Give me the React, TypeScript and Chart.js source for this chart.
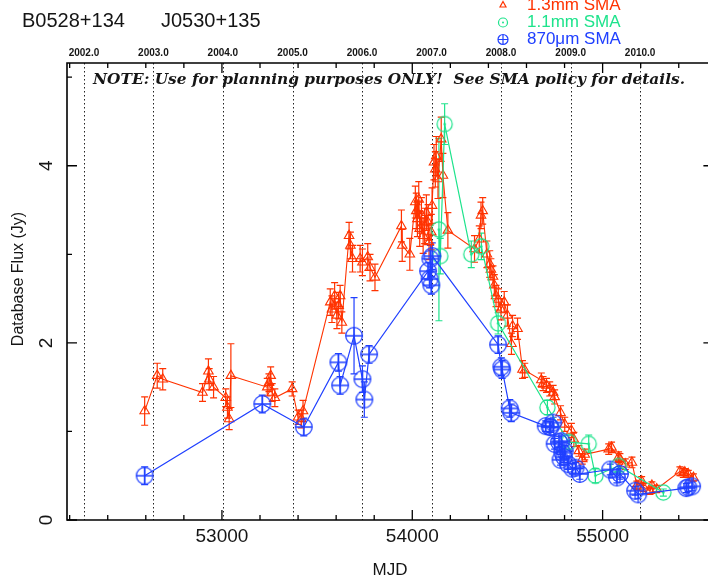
import React, { useEffect, useRef } from 'react';
import { Chart, registerables } from 'chart.js';
Chart.register(...registerables);

// ---- data (MJD, flux in Jy, error in Jy) ----
const redMJD = [52594, 52660, 52689, 52898, 52929, 52933, 52956, 53020, 53029, 53038, 53047, 53238, 53247, 53256, 53264, 53278, 53369, 53400, 53417, 53426, 53569, 53578, 53592, 53604, 53613, 53621, 53630, 53668, 53675, 53686, 53726, 53738, 53766, 53778, 53804, 53943, 53947, 53987, 54016, 54021, 54027, 54034, 54039, 54048, 54057, 54065, 54074, 54083, 54088, 54100, 54104, 54114, 54121, 54126, 54135, 54152, 54161, 54187, 54327, 54352, 54361, 54370, 54392, 54407, 54413, 54424, 54431, 54440, 54452, 54466, 54483, 54500, 54521, 54527, 54553, 54579, 54591, 54678, 54687, 54705, 54722, 54740, 54748, 54779, 54801, 54836, 54849, 54875, 54893, 54906, 55032, 55047, 55084, 55091, 55119, 55154, 55180, 55205, 55215, 55249, 55259, 55284, 55406, 55424, 55432, 55450, 55477];
const redFlux = [1.23, 1.63, 1.59, 1.44, 1.68, 1.59, 1.50, 1.38, 1.27, 1.14, 1.63, 1.50, 1.55, 1.63, 1.44, 1.38, 1.48, 1.16, 1.14, 1.23, 2.46, 2.38, 2.53, 2.31, 2.42, 2.53, 2.23, 3.21, 3.10, 2.95, 2.95, 2.91, 2.97, 2.85, 2.74, 3.32, 3.10, 3.00, 3.59, 3.49, 3.40, 3.62, 3.29, 3.44, 3.21, 3.32, 3.47, 3.36, 3.14, 3.25, 3.55, 4.04, 3.96, 4.11, 3.85, 4.30, 3.89, 3.27, 3.06, 3.17, 3.44, 3.49, 3.00, 2.89, 2.83, 2.75, 2.65, 2.53, 2.49, 2.38, 2.46, 2.31, 1.99, 2.19, 2.16, 1.70, 1.69, 1.58, 1.54, 1.52, 1.48, 1.44, 1.39, 1.21, 1.08, 1.01, 0.91, 0.78, 0.69, 0.74, 0.80, 0.82, 0.71, 0.69, 0.63, 0.65, 0.39, 0.44, 0.37, 0.33, 0.39, 0.35, 0.55, 0.53, 0.54, 0.52, 0.48];
const redErr = [0.16, 0.14, 0.12, 0.10, 0.14, 0.12, 0.12, 0.10, 0.12, 0.12, 0.36, 0.10, 0.10, 0.10, 0.10, 0.10, 0.08, 0.08, 0.10, 0.12, 0.15, 0.15, 0.15, 0.15, 0.15, 0.12, 0.12, 0.15, 0.15, 0.15, 0.15, 0.15, 0.15, 0.15, 0.15, 0.18, 0.18, 0.18, 0.18, 0.20, 0.20, 0.20, 0.20, 0.20, 0.20, 0.20, 0.20, 0.20, 0.20, 0.20, 0.20, 0.20, 0.20, 0.22, 0.22, 0.25, 0.25, 0.20, 0.15, 0.15, 0.15, 0.15, 0.15, 0.15, 0.12, 0.12, 0.12, 0.12, 0.12, 0.12, 0.12, 0.12, 0.12, 0.12, 0.12, 0.10, 0.08, 0.08, 0.08, 0.08, 0.08, 0.08, 0.08, 0.08, 0.08, 0.08, 0.08, 0.06, 0.06, 0.06, 0.06, 0.06, 0.06, 0.06, 0.06, 0.06, 0.05, 0.05, 0.05, 0.04, 0.04, 0.04, 0.05, 0.05, 0.04, 0.04, 0.04];

const greenMJD = [54140, 54147, 54170, 54310, 54363, 54451, 54710, 54823, 54927, 54962, 55084, 55319];
const greenFlux = [3.28, 2.98, 4.47, 3.00, 3.09, 2.22, 1.27, 0.88, 0.86, 0.50, 0.61, 0.31];
const greenErr = [1.03, 0.20, 0.23, 0.15, 0.15, 0.12, 0.08, 0.08, 0.10, 0.08, 0.06, 0.04];

const blueMJD = [52594, 53212, 53430, 53612, 53621, 53694, 53738, 53748, 53773, 54083, 54091, 54095, 54100, 54105, 54451, 54468, 54472, 54512, 54520, 54701, 54722, 54727, 54740, 54748, 54771, 54779, 54783, 54788, 54797, 54801, 54818, 54841, 54858, 54880, 55040, 55075, 55091, 55171, 55187, 55440, 55450, 55470];
const blueFlux = [0.50, 1.31, 1.05, 1.78, 1.52, 2.08, 1.59, 1.36, 1.87, 2.81, 2.72, 2.95, 2.65, 2.98, 1.98, 1.73, 1.70, 1.26, 1.21, 1.06, 1.05, 1.05, 1.10, 0.86, 0.88, 0.68, 0.89, 0.76, 0.71, 0.78, 0.63, 0.58, 0.59, 0.52, 0.57, 0.48, 0.52, 0.33, 0.29, 0.36, 0.37, 0.38];
const blueErr = [0.10, 0.10, 0.10, 0.10, 0.10, 0.43, 0.15, 0.20, 0.10, 0.10, 0.10, 0.15, 0.10, 0.15, 0.10, 0.10, 0.10, 0.10, 0.10, 0.06, 0.06, 0.06, 0.06, 0.06, 0.06, 0.06, 0.06, 0.06, 0.06, 0.06, 0.06, 0.06, 0.06, 0.06, 0.06, 0.06, 0.06, 0.05, 0.05, 0.05, 0.05, 0.05];

// ---- axes / labels ----
const yearMJD = [52275, 52640, 53005, 53371, 53736, 54101, 54466, 54832, 55197];
const yearLabels = ['2002.0', '2003.0', '2004.0', '2005.0', '2006.0', '2007.0', '2008.0', '2009.0', '2010.0'];
const xMajorTicks = [53000, 54000, 55000];
const xTickLabels = ['53000', '54000', '55000'];
const yTickValues = [0, 2, 4];
const yTickLabels = ['0', '2', '4'];
const legendLabels = ['1.3mm SMA', '1.1mm SMA', '870\u03bcm SMA'];
const titleLeft = 'B0528+134';
const titleRight = 'J0530+135';
const noteText = 'NOTE: Use for planning purposes ONLY!  See SMA policy for details.';
const xTitle = 'MJD';
const yTitle = 'Database Flux (Jy)';

const RED = '#ff3300';
const GREEN = '#1ee38c';
const BLUE = '#2040ff';
const INK = '#151515';
const SANS = '"Liberation Sans", Arial, sans-serif';

function makeSymbol(kind: string, color: string, r: number, lw: number) {
  const size = Math.ceil(2 * r + lw + 2);
  const c = document.createElement('canvas');
  c.width = size;
  c.height = size;
  const g = c.getContext('2d') as CanvasRenderingContext2D;
  const cx = size / 2;
  g.strokeStyle = color;
  g.lineWidth = lw;
  g.beginPath();
  g.arc(cx, cx, r, 0, Math.PI * 2);
  g.stroke();
  if (kind === 'plus') {
    g.beginPath();
    g.moveTo(cx - r, cx);
    g.lineTo(cx + r, cx);
    g.moveTo(cx, cx - r);
    g.lineTo(cx, cx + r);
    g.stroke();
  } else {
    g.fillStyle = color;
    g.beginPath();
    g.arc(cx, cx, 1.2, 0, Math.PI * 2);
    g.fill();
  }
  return c;
}

const decorPlugin = {
  id: 'decor',
  beforeDatasetsDraw(chart: any) {
    const { ctx, chartArea: a } = chart;
    const x = chart.scales.x;
    const y = chart.scales.y;
    ctx.save();
    // dotted year lines
    ctx.strokeStyle = '#222';
    ctx.lineWidth = 1;
    ctx.setLineDash([1.5, 2.5]);
    yearMJD.forEach((m) => {
      const px = Math.round(x.getPixelForValue(m)) + 0.5;
      ctx.beginPath();
      ctx.moveTo(px, a.top);
      ctx.lineTo(px, a.bottom);
      ctx.stroke();
    });
    ctx.setLineDash([]);
    // error bars
    chart.data.datasets.forEach((ds: any) => {
      const errs: number[] = ds.errors;
      ctx.strokeStyle = ds.borderColor;
      ctx.lineWidth = 1.2;
      ds.data.forEach((p: any, i: number) => {
        const px = x.getPixelForValue(p.x);
        const y1 = y.getPixelForValue(p.y + errs[i]);
        const y2 = y.getPixelForValue(p.y - errs[i]);
        ctx.beginPath();
        ctx.moveTo(px, y1);
        ctx.lineTo(px, y2);
        ctx.moveTo(px - 3.5, y1);
        ctx.lineTo(px + 3.5, y1);
        ctx.moveTo(px - 3.5, y2);
        ctx.lineTo(px + 3.5, y2);
        ctx.stroke();
      });
    });
    ctx.restore();
  },
  afterDraw(chart: any) {
    const { ctx, chartArea: a } = chart;
    const x = chart.scales.x;
    const y = chart.scales.y;
    ctx.save();
    // frame
    ctx.strokeStyle = '#000';
    ctx.lineWidth = 1.6;
    ctx.beginPath();
    ctx.moveTo(a.right, a.top);
    ctx.lineTo(a.left, a.top);
    ctx.lineTo(a.left, a.bottom);
    ctx.lineTo(a.right, a.bottom);
    ctx.lineTo(a.right, a.top);
    ctx.stroke();
    // x ticks (bottom and top, inward)
    ctx.lineWidth = 1.3;
    ctx.beginPath();
    for (let m = 52200; m <= 55400; m += 200) {
      const px = x.getPixelForValue(m);
      const len = m % 1000 === 0 ? 10 : 5;
      ctx.moveTo(px, a.bottom);
      ctx.lineTo(px, a.bottom - len);
      ctx.moveTo(px, a.top);
      ctx.lineTo(px, a.top + len);
    }
    for (let v = 0; v <= 5; v += 1) {
      const py = y.getPixelForValue(v);
      const len = v % 2 === 0 ? 10 : 5;
      ctx.moveTo(a.left, py);
      ctx.lineTo(a.left + len, py);
      ctx.moveTo(a.right, py);
      ctx.lineTo(a.right - len, py);
    }
    ctx.stroke();
    // bottom tick labels
    ctx.fillStyle = INK;
    ctx.font = '19px ' + SANS;
    ctx.textAlign = 'center';
    ctx.textBaseline = 'middle';
    xMajorTicks.forEach((m, i) => {
      ctx.fillText(xTickLabels[i], x.getPixelForValue(m), a.bottom + 17);
    });
    // x title
    ctx.font = '17px ' + SANS;
    ctx.fillText(xTitle, a.left + 323, a.bottom + 50);
    // y tick labels (rotated)
    ctx.font = '19px ' + SANS;
    yTickValues.forEach((v, i) => {
      ctx.save();
      ctx.translate(47, y.getPixelForValue(v));
      ctx.rotate(-Math.PI / 2);
      ctx.fillText(yTickLabels[i], 0, 0);
      ctx.restore();
    });
    // y title
    ctx.save();
    ctx.font = '16px ' + SANS;
    ctx.translate(19, 279);
    ctx.rotate(-Math.PI / 2);
    ctx.fillText(yTitle, 0, 0);
    ctx.restore();
    // top year labels
    ctx.font = 'bold 10px ' + SANS;
    yearMJD.forEach((m, i) => {
      ctx.fillText(yearLabels[i], x.getPixelForValue(m), a.top - 10);
    });
    // title
    ctx.font = '20px ' + SANS;
    ctx.textAlign = 'left';
    ctx.fillText(titleLeft, 22, 21);
    ctx.fillText(titleRight, 161, 21);
    // note
    ctx.save();
    ctx.font = 'italic bold 14px "DejaVu Serif", serif';
    const w = ctx.measureText(noteText).width;
    ctx.translate(93, 80);
    ctx.scale(592 / w, 1);
    ctx.fillText(noteText, 0, 0);
    ctx.restore();
    // legend
    const legY = [5, 22.5, 39.5];
    const legC = [RED, GREEN, BLUE];
    ctx.font = '17px ' + SANS;
    legendLabels.forEach((t, i) => {
      ctx.fillStyle = legC[i];
      ctx.fillText(t, 527, legY[i]);
    });
    ctx.lineWidth = 1.2;
    // triangle
    ctx.strokeStyle = RED;
    ctx.beginPath();
    ctx.moveTo(503, legY[0] - 3.5);
    ctx.lineTo(506, legY[0] + 2);
    ctx.lineTo(500, legY[0] + 2);
    ctx.closePath();
    ctx.stroke();
    // circle dot
    ctx.strokeStyle = GREEN;
    ctx.beginPath();
    ctx.arc(503, legY[1], 4.5, 0, Math.PI * 2);
    ctx.stroke();
    ctx.fillStyle = GREEN;
    ctx.beginPath();
    ctx.arc(503, legY[1], 1, 0, Math.PI * 2);
    ctx.fill();
    // circle plus
    ctx.strokeStyle = BLUE;
    ctx.beginPath();
    ctx.arc(503, legY[2], 5, 0, Math.PI * 2);
    ctx.moveTo(498, legY[2]);
    ctx.lineTo(508, legY[2]);
    ctx.moveTo(503, legY[2] - 5);
    ctx.lineTo(503, legY[2] + 5);
    ctx.stroke();
    ctx.restore();
  },
};

export default function App() {
  const ref = useRef<HTMLCanvasElement>(null);
  useEffect(() => {
    const canvas = ref.current as HTMLCanvasElement;
    const plusSym = makeSymbol('plus', BLUE, 8.3, 1.3);
    const dotSym = makeSymbol('dot', GREEN, 7.6, 1.2);
    const chart = new Chart(canvas, {
      type: 'scatter',
      data: {
        datasets: [
          {
            label: legendLabels[2],
            data: blueMJD.map((m, i) => ({ x: m, y: blueFlux[i] })),
            errors: blueErr,
            borderColor: BLUE,
            backgroundColor: BLUE,
            pointStyle: plusSym,
            showLine: true,
            borderWidth: 1.2,
          } as any,
          {
            label: legendLabels[1],
            data: greenMJD.map((m, i) => ({ x: m, y: greenFlux[i] })),
            errors: greenErr,
            borderColor: GREEN,
            backgroundColor: GREEN,
            pointStyle: dotSym,
            showLine: true,
            borderWidth: 1.2,
          } as any,
          {
            label: legendLabels[0],
            data: redMJD.map((m, i) => ({ x: m, y: redFlux[i] })),
            errors: redErr,
            borderColor: RED,
            backgroundColor: 'rgba(0,0,0,0)',
            pointStyle: 'triangle',
            pointRadius: 5.5,
            pointBorderWidth: 1.1,
            showLine: true,
            borderWidth: 1.1,
          } as any,
        ],
      },
      options: {
        responsive: false,
        devicePixelRatio: 1,
        animation: false,
        events: [],
        layout: { padding: { left: 67, top: 63, right: 3, bottom: 62 } },
        plugins: { legend: { display: false }, tooltip: { enabled: false } },
        scales: {
          x: { type: 'linear', min: 52186, max: 55582, display: false },
          y: { type: 'linear', min: 0, max: 5.16, display: false },
        },
      },
      plugins: [decorPlugin],
    } as any);
    return () => chart.destroy();
  }, []);
  return (
    <div style={{ position: 'fixed', left: 0, top: 0, width: 708, height: 582, overflow: 'hidden', background: '#fff' }}>
      <canvas ref={ref} width={720} height={582} style={{ display: 'block', width: 720, height: 582 }} />
    </div>
  );
}
